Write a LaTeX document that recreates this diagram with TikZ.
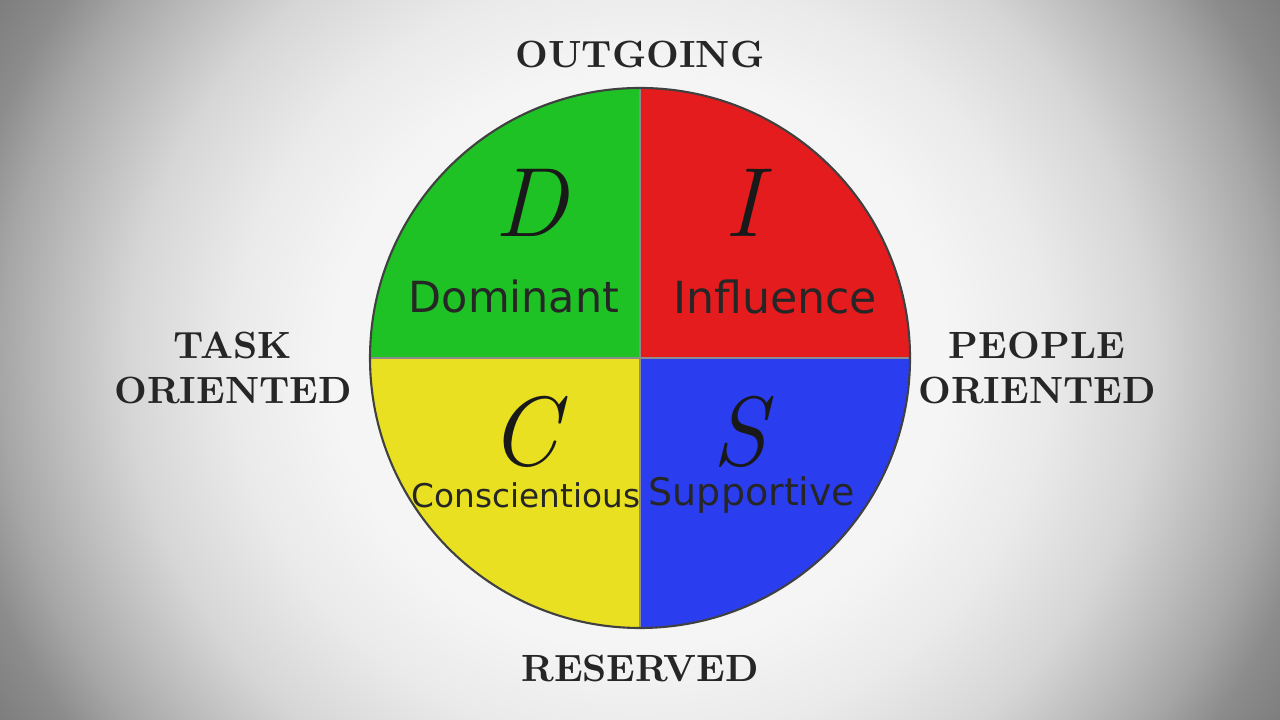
\documentclass[tikz,border=0pt]{standalone}
\usepackage{fontspec}
\newfontfamily\handfont{DejaVu Sans}
\usetikzlibrary{positioning}

\definecolor{discgreen}{RGB}{30,194,36}
\definecolor{discred}{RGB}{228,28,30}
\definecolor{discyellow}{RGB}{232,224,32}
\definecolor{discblue}{RGB}{42,62,240}
\definecolor{bgA}{RGB}{245,245,245}
\definecolor{bgB}{RGB}{234,234,234}
\definecolor{bgC}{RGB}{214,214,214}
\definecolor{bgD}{RGB}{186,186,186}
\definecolor{bgE}{RGB}{166,166,166}
\definecolor{bgF}{RGB}{140,140,140}
\definecolor{bgG}{RGB}{120,120,120}

\pgfdeclareradialshading{vignette}{\pgfpoint{0bp}{0bp}}{%
  color(0bp)=(bgA); color(12bp)=(bgA); color(16bp)=(bgB); color(20bp)=(bgC);
  color(23bp)=(bgD); color(25bp)=(bgE); color(27bp)=(bgF); color(30bp)=(bgG);
  color(50bp)=(bgG)}

\begin{document}
\begin{tikzpicture}[
    axislabel/.style={font=\bfseries\fontsize{10.8}{12.8}\selectfont, align=center, text=black!85},
    bigletter/.style={font=\itshape\fontsize{28}{30}\selectfont, text=black!90, inner sep=0pt},
    trait/.style={font=\handfont\fontsize{#1}{13}\selectfont, text=black!85, inner sep=0pt}
  ]
  \useasboundingbox (0,0) rectangle (12.8,7.2);
  % Background vignette
  \begin{scope}
    \clip (0,0) rectangle (12.8,7.2);
    \shade[shading=vignette] (0,-2.4) rectangle (12.8,9.6);
  \end{scope}

  % DISC wheel
  \coordinate (c) at (6.4,3.62);
  \fill[discgreen]  (c) -- ++(-2.7,0) arc[start angle=180, end angle=90,  radius=2.7] -- cycle;
  \fill[discred]    (c) -- ++(0,2.7)  arc[start angle=90,  end angle=0,   radius=2.7] -- cycle;
  \fill[discblue]   (c) -- ++(2.7,0)  arc[start angle=0,   end angle=-90, radius=2.7] -- cycle;
  \fill[discyellow] (c) -- ++(0,-2.7) arc[start angle=270, end angle=180, radius=2.7] -- cycle;
  \draw[black!45, line width=0.3pt] (c) ++(-2.7,0) -- ++(5.4,0);
  \draw[black!45, line width=0.3pt] (c) ++(0,-2.7) -- ++(0,5.4);
  \draw[black!75, line width=0.6pt] (c) circle[radius=2.7];

  % Letters
  \node[bigletter] (D) at (5.31,5.17) {D};
  \node[bigletter] (I) at (7.43,5.17) {I};
  \node[bigletter] (C) at (5.24,2.88) {C};
  \node[bigletter] (S) at (7.40,2.88) {S};

  % Traits
  \node[trait=12.2] (dominant) at (5.14,4.23) {Dominant};
  \node[trait=12.6] (influence) at (7.75,4.23) {Influence};
  \node[trait=9.3] (conscientious) at (5.26,2.25) {Conscientious};
  \node[trait=10.8] (supportive) at (7.52,2.25) {Supportive};

  % Axis labels
  \node[axislabel] (outgoing) at (6.4,6.65) {OUTGOING};
  \node[axislabel] (reserved) at (6.4,0.52) {RESERVED};
  \node[axislabel] (task) at (2.33,3.52) {TASK\\ORIENTED};
  \node[axislabel] (people) at (10.37,3.52) {PEOPLE\\ORIENTED};
\end{tikzpicture}
\end{document}
